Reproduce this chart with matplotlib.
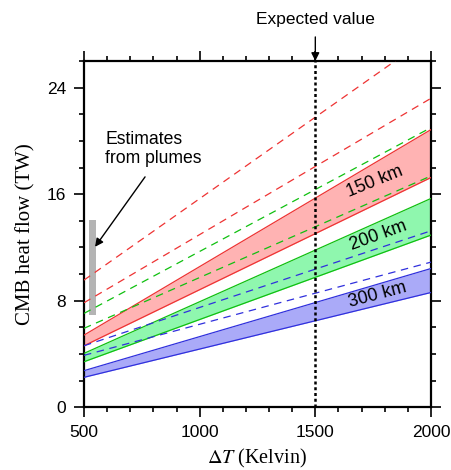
import numpy as np
import matplotlib
matplotlib.use('Agg')
import matplotlib.pyplot as plt
from matplotlib.ticker import MultipleLocator

# ─── DATA (values at dT = 500 K and 2000 K, linear in between) ────────────
DT_ENDS = [500, 2000]

BAND_150_UPPER = [5.42, 20.85]
BAND_150_LOWER = [4.62, 17.25]
BAND_200_UPPER = [4.05, 15.68]
BAND_200_LOWER = [3.42, 12.93]
BAND_300_UPPER = [2.75, 10.42]
BAND_300_LOWER = [2.25, 8.62]

DASH_150 = [[9.55, 27.9], [7.85, 23.2]]
DASH_200 = [[7.05, 21.0], [5.93, 17.37]]
DASH_300 = [[4.62, 13.25], [3.90, 10.90]]

PLUME_DT = 537           # position of the grey bar
PLUME_RANGE = [6.9, 14.1]
EXPECTED_DT = 1500

BAND_LABELS = ["150 km", "200 km", "300 km"]
LABEL_POS = [(1758, 16.9), (1772, 12.9), (1771, 8.4)]
LABEL_ROT = [22, 20, 15]

# ─── STYLE ────────────────────────────────────────────────────────────────
RED, RED_FILL = '#ee3333', '#ffb3b3'
GRN, GRN_FILL = '#10c010', '#8ff7ae'
BLU, BLU_FILL = '#3030dd', '#aaaaf8'

plt.rcParams['font.family'] = ['Liberation Sans', 'DejaVu Sans']
plt.rcParams['mathtext.fontset'] = 'stix'

fig = plt.figure(figsize=(4.52, 4.70), dpi=100)
ax = fig.add_axes([0.1858, 0.1334, 0.7677, 0.7368])

x = np.array(DT_ENDS, dtype=float)

bands = [
    (BAND_150_LOWER, BAND_150_UPPER, RED, RED_FILL),
    (BAND_200_LOWER, BAND_200_UPPER, GRN, GRN_FILL),
    (BAND_300_LOWER, BAND_300_UPPER, BLU, BLU_FILL),
]
for lo, hi, c, fc in bands:
    ax.fill_between(x, lo, hi, color=fc, lw=0, zorder=1)
    ax.plot(x, lo, color=c, lw=0.9, zorder=3)
    ax.plot(x, hi, color=c, lw=0.9, zorder=3)

for pair, c in [(DASH_150, RED), (DASH_200, GRN), (DASH_300, BLU)]:
    for vals in pair:
        ax.plot(x, vals, color=c, lw=0.9, ls=(0, (6, 4.5)), zorder=3)

for txt, (tx, ty), rot in zip(BAND_LABELS, LABEL_POS, LABEL_ROT):
    ax.text(tx, ty, txt, fontsize=13, rotation=rot, ha='center', va='center',
            rotation_mode='anchor', zorder=4)

# plume estimates
ax.bar(PLUME_DT, PLUME_RANGE[1] - PLUME_RANGE[0], bottom=PLUME_RANGE[0],
       width=34, color='#b4b4b4', lw=0, zorder=2)
ax.text(592, 19.4, "Estimates\nfrom plumes", fontsize=12.7, ha='left',
        va='center', linespacing=1.2, zorder=4)
ax.annotate('', xy=(548, 12.05), xytext=(764, 17.3),
            arrowprops=dict(arrowstyle='-|>', color='k', lw=1.0,
                            mutation_scale=12, shrinkA=0, shrinkB=0))

# expected value
ax.axvline(EXPECTED_DT, color='k', lw=1.8, ls=(0, (1.2, 1.1)), zorder=5)
ax.annotate('Expected value', xy=(EXPECTED_DT, 26), xytext=(EXPECTED_DT, 29.1),
            ha='center', va='center', fontsize=12.5, annotation_clip=False,
            arrowprops=dict(arrowstyle='-|>', color='k', lw=1.0,
                            mutation_scale=12, shrinkA=5, shrinkB=0))

ax.set_xlim(500, 2000)
ax.set_ylim(0, 26)
ax.xaxis.set_major_locator(MultipleLocator(500))
ax.xaxis.set_minor_locator(MultipleLocator(100))
ax.yaxis.set_major_locator(MultipleLocator(8))
ax.yaxis.set_minor_locator(MultipleLocator(2))
ax.tick_params(which='both', direction='out', top=True, right=True,
               labelsize=12.5, width=1.2, pad=6)
ax.tick_params(which='major', length=7)
ax.tick_params(which='minor', length=3.5)
for s in ax.spines.values():
    s.set_linewidth(1.6)

ax.set_ylabel('CMB heat flow (TW)', family=['Liberation Serif'], fontsize=15,
              labelpad=8)
ax.set_xlabel(r'$\Delta T$ (Kelvin)', family=['Liberation Serif'], fontsize=14.5,
              labelpad=5)

fig.savefig('out.png', dpi=100)
